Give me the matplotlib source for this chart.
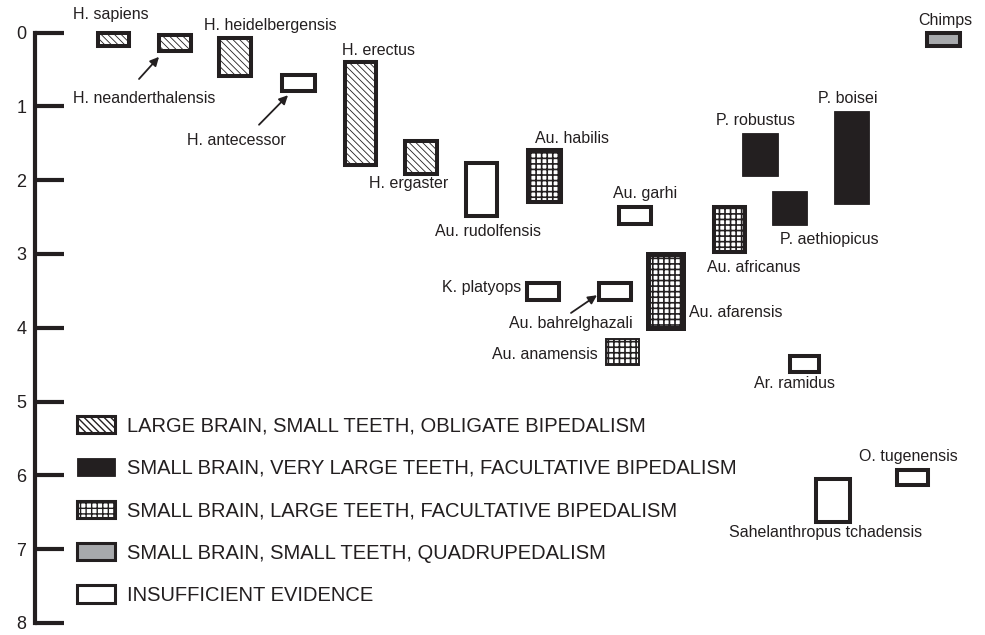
"""
Hominin species time ranges (Ma) grouped by brain / teeth / locomotion.
Writes out.png (985x635).
"""

import matplotlib
matplotlib.use('Agg')
import matplotlib.pyplot as plt
from matplotlib.patches import Rectangle, Patch

plt.rcParams['font.family'] = ['Liberation Sans', 'DejaVu Sans']

# ---------------------------------------------------------------------------
SPECIES = [
    'H. sapiens', 'H. neanderthalensis', 'H. heidelbergensis', 'H. antecessor',
    'H. erectus', 'H. ergaster', 'Au. rudolfensis', 'Au. habilis',
    'Au. garhi', 'Au. africanus', 'Au. afarensis', 'Au. bahrelghazali',
    'K. platyops', 'Au. anamensis', 'P. robustus', 'P. boisei',
    'P. aethiopicus', 'Chimps', 'Ar. ramidus', 'Sahelanthropus tchadensis',
    'O. tugenensis',
]
GROUP = [
    'large', 'large', 'large', 'open',
    'large', 'large', 'open', 'grid',
    'open', 'grid', 'grid', 'open',
    'open', 'grid', 'robust', 'robust',
    'robust', 'quad', 'open', 'open',
    'open',
]
# youngest / oldest age of each range, millions of years
YOUNG = [0.0, 0.03, 0.07, 0.58, 0.40, 1.47, 1.77, 1.59, 2.36, 2.36, 3.0,
         3.39, 3.39, 4.15, 1.36, 1.06, 2.15, 0.0, 4.38, 6.05, 5.93]
OLD = [0.18, 0.25, 0.59, 0.79, 1.80, 1.92, 2.49, 2.30, 2.59, 2.97, 4.0,
       3.62, 3.62, 4.51, 1.94, 2.32, 2.61, 0.18, 4.60, 6.63, 6.13]

AGE_TICKS = list(range(9))

LEGEND_GROUPS = ['large', 'robust', 'grid', 'quad', 'open']
LEGEND_LABELS = [
    'LARGE BRAIN, SMALL TEETH, OBLIGATE BIPEDALISM',
    'SMALL BRAIN, VERY LARGE TEETH, FACULTATIVE BIPEDALISM',
    'SMALL BRAIN, LARGE TEETH, FACULTATIVE BIPEDALISM',
    'SMALL BRAIN, SMALL TEETH, QUADRUPEDALISM',
    'INSUFFICIENT EVIDENCE',
]
# ---------------------------------------------------------------------------

# layout: horizontal placement of each box (pixel-like units) and label spots
X_LEFT = [98, 159, 219, 282, 345, 405, 466, 528, 619, 714, 648, 599,
          527, 606, 742, 834, 772, 927, 790, 816, 897]
X_RIGHT = [129, 191, 251, 315, 376, 437, 497, 561, 651, 745, 683, 631,
           559, 639, 778, 869, 807, 960, 819, 850, 928]
LABEL_POS = {
    'H. sapiens': (111, -0.24), 'H. neanderthalensis': (144, 0.89),
    'H. heidelbergensis': (270, -0.10), 'H. antecessor': (236, 1.46),
    'H. erectus': (379, 0.24), 'H. ergaster': (409, 2.04),
    'Au. rudolfensis': (488, 2.70), 'Au. habilis': (572, 1.44),
    'Au. garhi': (645, 2.175), 'Au. africanus': (754, 3.18),
    'Au. afarensis': (736, 3.80), 'Au. bahrelghazali': (571, 3.94),
    'K. platyops': (482, 3.46), 'Au. anamensis': (545, 4.36),
    'P. robustus': (756, 1.19), 'P. boisei': (848, 0.89),
    'P. aethiopicus': (829, 2.80), 'Chimps': (945, -0.16),
    'Ar. ramidus': (795, 4.75), 'Sahelanthropus tchadensis': (826, 6.78),
    'O. tugenensis': (908, 5.74),
}
ARROWS = [  # (tail, head)
    ((139, 0.63), (159, 0.33)),
    ((259, 1.25), (288, 0.85)),
    ((571, 3.80), (597, 3.56)),
]

INK = '#231f20'
STYLE = {
    'large':  dict(facecolor='white', hatch='\\\\\\\\\\', lw=2.9, hlw=0.6),
    'robust': dict(facecolor=INK, hatch=None, lw=0.6, hlw=0.6),
    'grid':   dict(facecolor='white', hatch='+++', lw=2.9, hlw=1.2),
    'quad':   dict(facecolor='#a7a9ac', hatch=None, lw=2.9, hlw=0.6),
    'open':   dict(facecolor='white', hatch=None, lw=2.9, hlw=0.6),
}
LW_OVERRIDE = {'Au. afarensis': 3.6, 'Au. anamensis': 1.4}

Y0_PX, PX_PER_MA, W, H = 32.5, 73.8, 985, 635


def make_patch(xy, w, h, group, lw=None):
    st = STYLE[group]
    with plt.rc_context({'hatch.linewidth': st['hlw']}):
        p = Rectangle(xy, w, h, facecolor=st['facecolor'], edgecolor=INK,
                      hatch=st['hatch'], linewidth=lw or st['lw'],
                      joinstyle='miter')
        if hasattr(p, 'set_hatch_linewidth'):
            p.set_hatch_linewidth(st['hlw'])
    return p


fig = plt.figure(figsize=(W / 100, H / 100), dpi=100)
ax = fig.add_axes([0, 0, 1, 1])
ax.set_xlim(0, W)
ax.set_ylim((H - Y0_PX) / PX_PER_MA, -Y0_PX / PX_PER_MA)

for name, g, y0, y1, xl, xr in zip(SPECIES, GROUP, YOUNG, OLD, X_LEFT, X_RIGHT):
    ax.add_patch(make_patch((xl, y0), xr - xl, y1 - y0, g,
                            LW_OVERRIDE.get(name)))
    tx, ty = LABEL_POS[name]
    ax.text(tx, ty, name, fontsize=11.5, color=INK, ha='center', va='center')

for tail, head in ARROWS:
    ax.annotate('', xy=head, xytext=tail,
                arrowprops=dict(arrowstyle='-|>', color=INK, lw=1.3,
                                mutation_scale=13, shrinkA=0, shrinkB=0))

# age axis
for side in ['top', 'right', 'bottom']:
    ax.spines[side].set_visible(False)
ax.spines['left'].set_position(('data', 34.5))
ax.spines['left'].set_bounds(0, 8)
ax.spines['left'].set_linewidth(3)
ax.spines['left'].set_color(INK)
ax.spines['left'].set_capstyle('projecting')
ax.set_xticks([])
ax.set_yticks(AGE_TICKS)
ax.tick_params(axis='y', direction='in', length=21, width=3, color=INK,
               pad=6, labelsize=13, labelcolor=INK)

handles = [make_patch((0, 0), 1, 1, g) for g in LEGEND_GROUPS]
handles = [Patch(facecolor=h.get_facecolor(), edgecolor=INK,
                 hatch=h.get_hatch(), linewidth=min(h.get_linewidth(), 2.2))
           for h in handles]
ax.legend(handles, LEGEND_LABELS, loc='upper left',
          bbox_to_anchor=(77 / W, 1 - 416 / H), frameon=False,
          fontsize=14.5, handlelength=1.9, handleheight=0.95,
          handletextpad=0.6, labelspacing=1.13, borderpad=0,
          borderaxespad=0, labelcolor=INK)

fig.savefig('out.png', dpi=100)
